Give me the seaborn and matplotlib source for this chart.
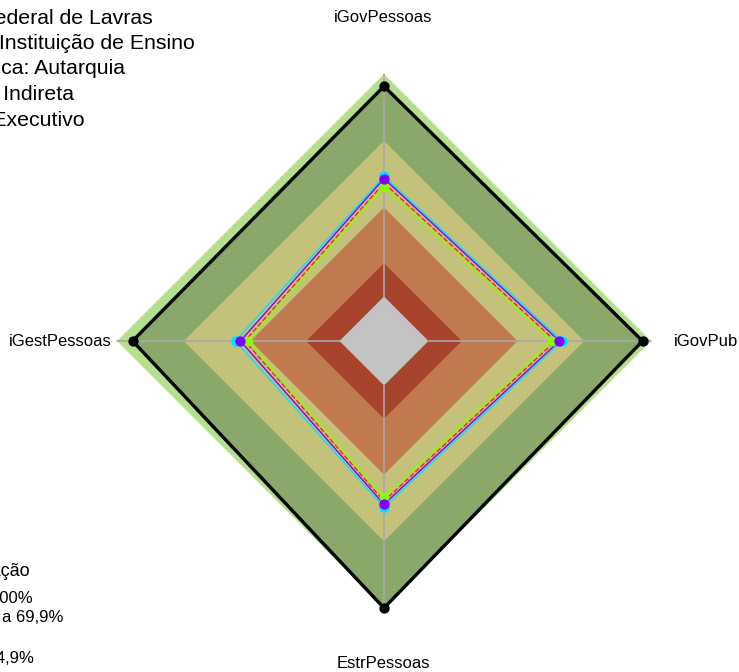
import numpy as np
import pandas as pd
import matplotlib
matplotlib.use("Agg")
import matplotlib.pyplot as plt
import seaborn as sns

# ---- data ----
axes_labels = ["iGovPessoas", "iGovPub", "EstrPessoas", "iGestPessoas"]
band_levels = [1.0, 0.7, 0.4, 0.15, 0.0]
band_colors = ["#B4DF8C", "#C3C17A", "#C17A4F", "#A8432E", "#C3C3C3"]
ref_black = [0.945, 0.962, 1.0, 0.93]
s_cyan = [0.540, 0.600, 0.548, 0.467]
s_purple = [0.530, 0.588, 0.534, 0.445]
s_red = [0.510, 0.570, 0.520, 0.425]
s_green = [0.494, 0.555, 0.503, 0.411]
info_lines = ["Organização: Universidade Federal de Lavras",
              "Tipo de organização: Instituição de Ensino",
              "Natureza jurídica: Autarquia",
              "Administração: Indireta",
              "Poder: Executivo"]
legend_title = "Faixas de classificação"
legend_items = ["Aprimorado: 70 a 100%", "Intermediário: 40 a 69,9%",
                "Inexpressivo: 0 a 14,9%"]

sns.set_theme(style="white")
plt.rcParams["font.family"] = ["Liberation Sans", "DejaVu Sans"]

W, H = 739, 672
fig = plt.figure(figsize=(W / 100, H / 100), dpi=100)
fig.patch.set_facecolor("white")

cx, cy, R = 384, 331, 267
ax = fig.add_axes([(cx - R) / W, (cy - R) / H, 2 * R / W, 2 * R / H], projection="polar")
ax.set_theta_offset(np.pi / 2)
ax.set_theta_direction(-1)
ax.set_ylim(-0.2, 1.0)
ax.patch.set_alpha(0)
ax.grid(False)
ax.spines["polar"].set_visible(False)
ax.set_xticks([])
ax.set_yticks([])

theta = np.arange(len(axes_labels)) * 2 * np.pi / len(axes_labels)
theta_c = np.append(theta, 2 * np.pi)

def closed(v):
    return np.append(np.asarray(v, float), v[0])

# bands
ax.fill(theta_c, closed([band_levels[0]] * 4), color=band_colors[0], lw=0, zorder=1)
ax.fill(theta_c, closed(ref_black), color="#8AA86A", lw=0, zorder=2)
for i, (lvl, col) in enumerate(zip(band_levels[1:-1], band_colors[1:-1])):
    ax.fill(theta_c, closed([lvl] * 4), color=col, lw=0, zorder=3 + i)

# spokes
for t in theta:
    ax.plot([t, t], [0.0, 1.0], color="#A8A8A8", lw=1.2, zorder=8, clip_on=False)
# centre (below 0)
ax.fill(theta_c, closed([band_levels[-1]] * 4), color=band_colors[-1], lw=0, zorder=9)

series = [
    ("ref", ref_black, "black", 2.4, "-", 55),
    ("cyan", s_cyan, "#00E5FF", 1.0, "-", 60),
    ("red", s_red, "#FF2020", 1.0, "--", 0),
    ("green", s_green, "#88FF00", 1.0, "-", 48),
    ("purple", s_purple, "#8000FF", 1.0, "-", 55),
]
z = 10
for name, vals, col, lw, ls, ms in series:
    df = pd.DataFrame({"theta": theta_c, "r": closed(vals)})
    sns.lineplot(data=df, x="theta", y="r", sort=False, estimator=None, ax=ax,
                 color=col, lw=lw, linestyle=ls, zorder=z, clip_on=False)
    z += 1
for name, vals, col, lw, ls, ms in series:
    if ms:
        df = pd.DataFrame({"theta": theta, "r": vals})
        sns.scatterplot(data=df, x="theta", y="r", ax=ax, color=col, s=ms,
                        linewidth=0, zorder=z, clip_on=False)
        z += 1
ax.set_xlabel("")
ax.set_ylabel("")
ax.set_xticks([])
ax.set_yticks([])
ax.set_ylim(-0.2, 1.0)

def ftext(x, y, s, ha="left", size=12):
    fig.text(x / W, 1 - y / H, s, ha=ha, va="center", fontsize=size, color="black")

# axis labels
ftext(383, 18, axes_labels[0], ha="center")
ftext(674, 341, axes_labels[1], ha="left")
ftext(383, 663, axes_labels[2], ha="center")
ftext(112, 341, axes_labels[3], ha="right")

# info block (cropped at left edge)
ends = [153, 195, 125, 74, 85]
ys = [18, 43.5, 69, 94.5, 120]
for s, xe, y in zip(info_lines, ends, ys):
    ftext(xe, y, s, ha="right", size=15.3)

# legend (cropped)
ftext(30, 572, legend_title, ha="right", size=13)
for s, xe, y in zip(legend_items, [33, 63, 34], [598, 618, 658]):
    ftext(xe, y, s, ha="right", size=12)

fig.savefig("out.png", dpi=100)
